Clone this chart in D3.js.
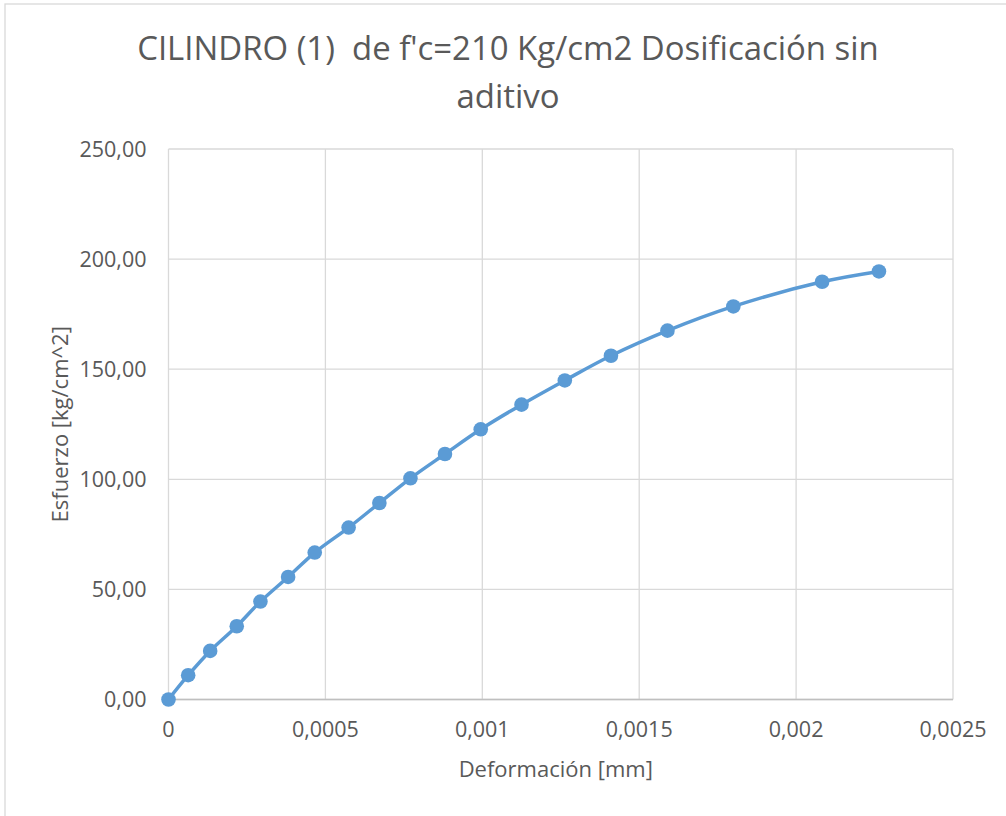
<!DOCTYPE html>
<html lang="es">
<head>
  <meta charset="UTF-8">
  <title>CILINDRO (1) de f'c=210 Kg/cm2</title>
  <style>
    body {
      margin: 0;
      padding: 0;
      background: #fff;
      font-family: 'Open Sans', 'Noto Sans', sans-serif;
    }
    svg {
      display: block;
    }
    .grid line {
      stroke: #d9d9d9;
      stroke-width: 1.3px;
    }
    .tick-label {
      font-size: 21.5px;
      fill: #595959;
    }
    .axis-title {
      font-size: 22px;
      fill: #595959;
    }
    .chart-title {
      fill: #595959;
      white-space: pre;
    }
    .series {
      fill: none;
      stroke: #5b9bd5;
      stroke-width: 3.5px;
      stroke-linecap: round;
    }
    .marker {
      fill: #5b9bd5;
    }
  </style>
</head>
<body>
  <svg width="1006" height="816"></svg>

  <script src="https://cdn.jsdelivr.net/npm/d3@7"></script>
  <script>
    // deformación [mm]
    const deformacion = [0, 0.0000627, 0.0001328, 0.0002175, 0.000293, 0.0003812, 0.000466,
      0.000574, 0.000672, 0.000771, 0.000881, 0.000995, 0.001125, 0.001263,
      0.00141, 0.00159, 0.0018, 0.002083, 0.002264];
    // esfuerzo [kg/cm^2]
    const esfuerzo = [0, 11.03, 22.06, 33.27, 44.48, 55.65, 66.73, 78.08, 89.24, 100.45,
      111.48, 122.7, 133.9, 144.9, 156.1, 167.5, 178.5, 189.7, 194.4];

    const xTicks = [0, 0.0005, 0.001, 0.0015, 0.002, 0.0025];
    const xTickLabels = ["0", "0,0005", "0,001", "0,0015", "0,002", "0,0025"];
    const yTicks = [0, 50, 100, 150, 200, 250];
    const yTickLabels = ["0,00", "50,00", "100,00", "150,00", "200,00", "250,00"];

    const titleLines = ["CILINDRO (1)  de f'c=210 Kg/cm2 Dosificación sin", "aditivo"];
    const xTitle = "Deformación [mm]";
    const yTitle = "Esfuerzo [kg/cm^2]";

    const svg = d3.select("svg");

    // chart border (only top/left show inside the picture)
    svg.append("rect")
      .attr("x", 5).attr("y", 4)
      .attr("width", 1010).attr("height", 820)
      .attr("fill", "#fff")
      .attr("stroke", "#d9d9d9")
      .attr("stroke-width", 1.3);

    const plot = { left: 168.5, right: 953, top: 149, bottom: 699.5 };

    const x = d3.scaleLinear().domain([0, 0.0025]).range([plot.left, plot.right]);
    const y = d3.scaleLinear().domain([0, 250]).range([plot.bottom, plot.top]);

    // gridlines
    const grid = svg.append("g").attr("class", "grid");
    grid.selectAll(".gx")
      .data(xTicks)
      .enter().append("line")
      .attr("x1", d => x(d)).attr("x2", d => x(d))
      .attr("y1", plot.top).attr("y2", plot.bottom);
    grid.selectAll(".gy")
      .data(yTicks)
      .enter().append("line")
      .attr("x1", plot.left).attr("x2", plot.right)
      .attr("y1", d => y(d)).attr("y2", d => y(d));

    // x axis line, a bit darker
    svg.append("line")
      .attr("x1", plot.left).attr("x2", plot.right)
      .attr("y1", plot.bottom).attr("y2", plot.bottom)
      .attr("stroke", "#bfbfbf")
      .attr("stroke-width", 1.3);

    // tick labels
    svg.append("g").selectAll("text")
      .data(xTicks)
      .enter().append("text")
      .attr("class", "tick-label")
      .attr("x", d => x(d))
      .attr("y", plot.bottom + 37.5)
      .attr("text-anchor", "middle")
      .text((d, i) => xTickLabels[i]);

    svg.append("g").selectAll("text")
      .data(yTicks)
      .enter().append("text")
      .attr("class", "tick-label")
      .attr("x", plot.left - 22)
      .attr("y", d => y(d) + 7.5)
      .attr("text-anchor", "end")
      .text((d, i) => yTickLabels[i]);

    // axis titles
    svg.append("text")
      .attr("class", "axis-title")
      .attr("x", (plot.left + plot.right) / 2 - 5)
      .attr("y", 777)
      .attr("text-anchor", "middle")
      .text(xTitle);

    svg.append("text")
      .attr("class", "axis-title")
      .attr("transform", `translate(68, ${(plot.top + plot.bottom) / 2}) rotate(-90)`)
      .attr("text-anchor", "middle")
      .text(yTitle);

    // title, sized so the first line spans like the original
    const title = svg.append("g");
    const t1 = title.append("text")
      .attr("class", "chart-title")
      .attr("x", 508).attr("y", 60)
      .attr("text-anchor", "middle")
      .attr("font-size", 30)
      .text(titleLines[0]);
    const fs = 30 * 742 / t1.node().getComputedTextLength();
    t1.attr("font-size", fs);
    title.append("text")
      .attr("class", "chart-title")
      .attr("x", 508).attr("y", 108)
      .attr("text-anchor", "middle")
      .attr("font-size", fs)
      .text(titleLines[1]);

    // series
    const pts = deformacion.map((d, i) => [d, esfuerzo[i]]);
    const line = d3.line()
      .x(d => x(d[0]))
      .y(d => y(d[1]))
      .curve(d3.curveCatmullRom.alpha(0.5));

    svg.append("path")
      .attr("class", "series")
      .attr("d", line(pts));

    svg.append("g").selectAll("circle")
      .data(pts)
      .enter().append("circle")
      .attr("class", "marker")
      .attr("cx", d => x(d[0]))
      .attr("cy", d => y(d[1]))
      .attr("r", 7.3);
  </script>
</body>
</html>
